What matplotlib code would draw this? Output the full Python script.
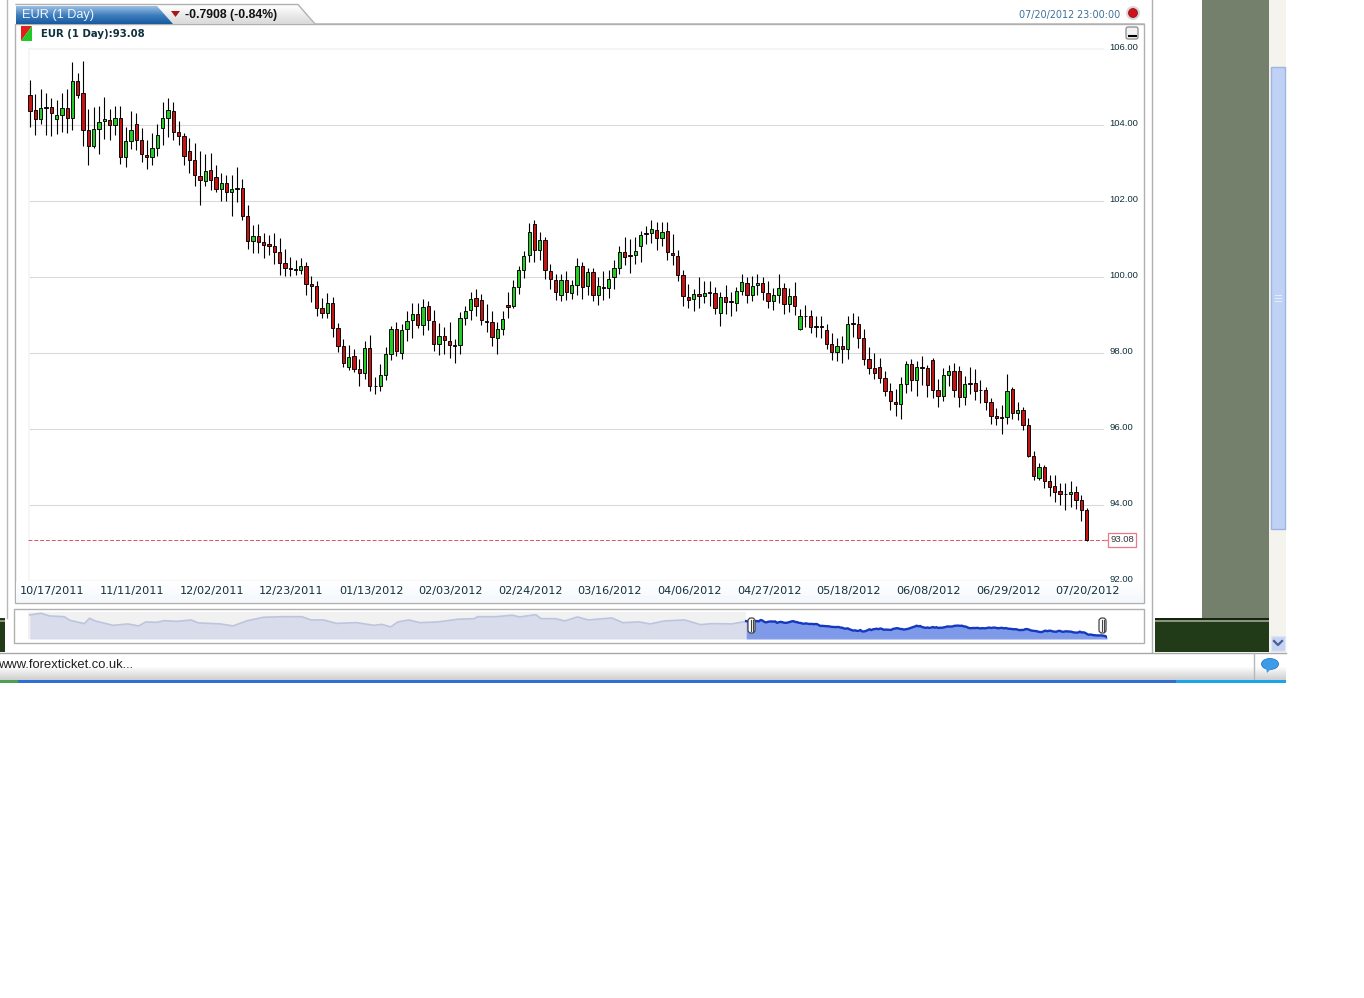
import numpy as np
import matplotlib
matplotlib.use("Agg")
import matplotlib.pyplot as plt
from matplotlib.patches import Rectangle, Polygon, FancyBboxPatch, Circle, Ellipse
from matplotlib.colors import LinearSegmentedColormap
from matplotlib.transforms import ScaledTranslation

# Daily candles
high = [105.19,104.82,104.95,104.84,104.71,104.67,104.84,104.95,105.67,105.37,105.70,104.43,104.47,104.51,104.74,104.43,104.51,104.51,103.95,104.38,
        104.32,103.92,103.61,103.79,104.03,104.60,104.71,104.60,104.12,103.79,103.67,103.53,103.33,103.25,103.26,102.96,102.74,102.69,102.69,102.91,
        102.58,101.90,101.38,101.40,101.17,101.11,101.17,101.04,100.74,100.53,100.44,100.50,100.41,100.03,99.90,99.45,99.58,99.47,98.78,98.37,
        98.21,98.11,97.84,98.33,98.47,97.37,97.72,98.15,98.72,98.83,98.77,99.12,99.32,99.32,99.42,99.36,99.14,98.79,98.69,98.82,
        98.37,99.07,99.25,99.60,99.69,99.55,99.29,99.11,98.83,99.11,99.60,99.93,100.28,100.69,101.42,101.49,101.18,101.05,100.34,100.09,
        100.09,100.17,99.93,100.50,100.40,100.25,100.24,100.00,100.15,100.18,100.46,100.82,101.05,101.00,101.05,101.20,101.35,101.51,101.44,101.44,
        101.44,101.14,100.70,100.18,99.82,99.68,99.99,99.89,99.89,99.75,99.61,99.79,99.61,99.75,100.08,99.99,100.02,100.09,100.00,99.89,
        99.71,100.07,99.84,99.71,99.87,99.16,99.27,99.14,98.97,98.97,98.77,98.54,98.40,98.46,98.97,99.05,98.98,98.63,98.16,98.00,
        97.87,97.52,97.20,97.06,97.37,97.79,97.84,97.78,97.91,97.69,97.87,97.32,97.61,97.69,97.74,97.67,97.39,97.63,97.58,97.28,
        97.11,96.82,96.55,96.62,97.46,97.10,96.72,96.57,96.29,95.42,95.11,95.06,94.80,94.78,94.58,94.58,94.63,94.50,94.27,93.93]
open_ = [104.79,104.39,104.17,104.47,104.47,104.17,104.27,104.45,104.18,105.16,104.84,103.87,103.46,103.89,104.10,104.13,104.01,104.20,103.16,103.59,
         104.04,103.61,103.21,103.15,103.41,103.92,104.18,104.38,103.82,103.71,103.32,103.08,102.66,102.54,102.81,102.63,102.32,102.47,102.23,102.35,
         102.34,101.62,100.96,101.09,100.92,100.88,100.82,100.65,100.36,100.24,100.20,100.18,100.29,99.82,99.76,99.18,99.06,99.31,98.65,98.19,
         97.64,97.91,97.57,97.47,98.13,97.14,97.13,97.42,97.98,98.63,97.99,98.63,98.86,99.03,98.73,99.24,98.85,98.25,98.45,98.33,
         98.21,98.21,98.91,99.13,99.44,99.40,98.84,98.81,98.40,98.63,99.26,99.25,99.75,100.18,100.58,101.39,100.72,100.98,100.17,99.93,
         99.54,99.92,99.59,99.79,100.28,99.77,100.13,99.52,99.75,99.72,100.00,100.25,100.67,100.58,100.58,100.82,101.16,101.16,101.24,101.03,
         101.20,100.63,100.56,100.05,99.47,99.41,99.56,99.49,99.60,99.58,99.05,99.47,99.36,99.33,99.64,99.85,99.53,99.78,99.84,99.59,
         99.36,99.53,99.70,99.28,99.50,98.64,98.98,98.97,98.70,98.70,98.62,98.24,98.02,98.19,98.12,98.79,98.76,98.39,97.85,97.61,
         97.64,97.34,96.99,96.72,96.67,97.18,97.70,97.29,97.62,97.60,97.83,97.04,96.86,97.42,97.52,97.53,96.84,97.20,97.21,97.04,
         97.03,96.70,96.34,96.32,96.32,97.05,96.41,96.51,96.11,95.29,94.71,94.99,94.62,94.49,94.37,94.30,94.30,94.35,94.12,93.88]
close = [104.38,104.17,104.45,104.45,104.33,104.26,104.44,104.19,105.16,104.80,103.88,103.46,103.89,104.09,104.17,104.01,104.20,103.16,103.59,103.87,
         103.62,103.23,103.15,103.40,103.74,104.18,104.39,103.82,103.72,103.19,103.08,102.68,102.56,102.79,102.56,102.32,102.47,102.23,102.32,102.33,
         101.62,100.96,101.09,100.93,100.85,100.83,100.66,100.36,100.25,100.21,100.18,100.29,99.83,99.76,99.18,99.06,99.31,98.66,98.19,97.73,
         97.90,97.57,97.48,98.13,97.13,97.13,97.42,97.98,98.64,98.05,98.62,98.84,99.03,98.73,99.21,98.86,98.25,98.45,98.35,98.21,
         98.19,98.91,99.12,99.43,99.24,98.86,98.81,98.41,98.63,98.90,99.21,99.74,100.18,100.56,101.18,100.70,100.98,100.18,99.95,99.62,
         99.92,99.60,99.79,100.28,99.73,100.14,99.52,99.76,99.72,99.96,100.24,100.66,100.54,100.56,100.68,101.12,101.14,101.26,101.03,101.19,
         100.65,100.58,100.06,99.49,99.40,99.56,99.49,99.59,99.59,99.18,99.47,99.35,99.34,99.63,99.87,99.54,99.76,99.84,99.60,99.36,
         99.53,99.71,99.29,99.50,99.25,98.97,98.97,98.68,98.69,98.68,98.25,98.02,98.19,98.12,98.76,98.76,98.39,97.85,97.61,97.47,
         97.34,96.99,96.73,96.66,97.18,97.70,97.29,97.62,97.60,97.15,97.04,96.86,97.42,97.53,97.03,96.84,97.18,97.19,97.01,97.02,
         96.70,96.34,96.29,96.30,97.01,96.41,96.51,96.11,95.29,94.76,94.99,94.63,94.48,94.35,94.28,94.28,94.35,94.12,93.87,93.08]
low = [103.96,103.73,104.03,103.75,103.72,103.77,103.81,103.79,103.88,104.71,103.44,102.94,103.39,103.25,103.64,103.61,103.75,102.97,102.91,103.37,
       103.35,103.04,102.84,102.96,103.20,103.47,103.68,103.61,103.48,102.96,102.75,102.41,101.90,102.41,102.30,102.23,102.01,101.99,101.60,101.98,
       101.49,100.74,100.63,100.63,100.50,100.59,100.34,100.06,100.02,100.02,100.06,100.08,99.53,99.34,98.98,98.92,98.92,98.42,98.02,97.63,
       97.55,97.49,97.12,97.33,97.00,96.91,97.00,97.30,97.82,97.93,97.85,98.32,98.40,98.65,98.48,98.60,98.05,97.94,97.98,97.87,
       97.74,97.98,98.75,98.88,98.97,98.75,98.55,98.18,97.98,98.48,98.92,99.19,99.55,99.97,100.41,100.39,100.46,99.96,99.68,99.39,
       99.38,99.39,99.42,99.54,99.42,99.54,99.36,99.26,99.39,99.45,99.68,100.09,100.32,100.11,100.35,100.39,100.88,100.89,100.70,100.81,
       100.44,100.31,99.90,99.25,99.18,99.11,99.18,99.32,99.23,99.04,98.70,99.03,98.97,99.10,99.54,99.33,99.36,99.53,99.39,99.18,
       99.14,99.33,99.04,99.07,98.99,98.60,98.68,98.53,98.42,98.40,98.11,97.82,97.80,97.74,97.85,98.42,98.13,97.68,97.45,97.33,
       97.20,96.86,96.51,96.34,96.27,96.95,96.99,96.86,97.17,96.84,96.82,96.57,96.73,97.14,96.84,96.57,96.62,96.91,96.77,96.69,
       96.49,96.12,96.11,95.86,96.14,96.27,96.25,95.97,95.27,94.65,94.67,94.45,94.23,94.09,94.01,93.86,93.94,93.90,93.57,93.06]

date_ticks = [4, 19, 34, 49, 64, 79, 94, 109, 124, 139, 154, 169, 184, 199]
date_labels = ["10/17/2011", "11/11/2011", "12/02/2011", "12/23/2011", "01/13/2012", "02/03/2012", "02/24/2012",
               "03/16/2012", "04/06/2012", "04/27/2012", "05/18/2012", "06/08/2012", "06/29/2012", "07/20/2012"]
price_ticks = [92, 94, 96, 98, 100, 102, 104, 106]
last_price = 93.08

# navigator, older history in front of the selected range
nav_hist_x = [-395,-389,-384,-376,-373,-365,-362,-359,-349,-341,-335,-331,-325,-321,-314,-306,-302,-290,-283,-275,-266,-255,-245,-240,-233,-226,-215,-205,-201,-196,
              -192,-186,-180,-170,-159,-150,-148,-138,-129,-125,-116,-113,-105,-100,-93,-87,-74,-68,-59,-53,-45,-34,-25,-19,-8,0]
nav_hist_y = [108.7,109.9,108.0,107.5,105.0,102.6,106.4,104.5,101.4,102.4,101.0,103.8,103.5,104.7,104.2,105.2,103.1,102.4,101.0,104.7,107.1,107.5,107.5,105.2,105.2,102.8,103.3,101.4,102.1,100.3,
              103.8,105.2,103.3,103.8,105.7,106.1,107.5,107.5,108.5,107.3,108.9,106.1,106.1,104.5,107.3,105.2,106.6,103.3,103.8,102.4,104.5,105.2,101.9,102.6,102.4,104.2]

W, H = 1364, 998
fig = plt.figure(figsize=(W / 100, H / 100), dpi=100, facecolor="white")


def px_axes(x0, y0, x1, y1):
    # axes placed with screen pixels, y measured from the top
    return fig.add_axes([x0 / W, 1 - y1 / H, (x1 - x0) / W, (y1 - y0) / H])


def gradient(ax, x0, y0, x1, y1, colors, clip=None):
    cmap = LinearSegmentedColormap.from_list("g", colors)
    g = np.linspace(0, 1, 64).reshape(-1, 1)
    im = ax.imshow(g, cmap=cmap, extent=(x0, x1, y1, y0), aspect="auto", zorder=4)
    if clip is not None:
        patch = Polygon(clip, closed=True, transform=ax.transData, facecolor="none", edgecolor="none")
        ax.add_patch(patch)
        im.set_clip_path(patch)


# Window chrome
bg = fig.add_axes([0, 0, 1, 1])
bg.axis("off")


def box(x0, y0, x1, y1, fc="white", ec="none", lw=1.0, z=1):
    bg.add_patch(Rectangle((x0, y0), x1 - x0, y1 - y0, facecolor=fc, edgecolor=ec, linewidth=lw, zorder=z))


box(1202, 0, 1269, 618, fc="#747f6c")
box(1155, 618, 1269, 652, fc="#213a17")
box(1155, 618, 1269, 620, fc="#14240e", z=2)
box(1155, 620, 1269, 622, fc="#8b9480", z=2)
box(0, 618, 5, 652, fc="#213a17")
box(0, 620, 5, 622, fc="#8b9480", z=2)
bg.plot([1152, 1152], [0, 652], color="#b0b0b0", lw=1.0, zorder=2)
bg.plot([7, 7], [0, 618], color="#b8b8b8", lw=1.0, zorder=2)

# scrollbar
box(1269, 0, 1286, 652, fc="#f5f3ee")
box(1271, 67, 1285, 529, fc="#bfd2f6", ec="#9fb4de", lw=1, z=2)
for yy in (295, 298, 301):
    bg.plot([1275, 1281], [yy, yy], color="#e6eefc", lw=0.7, zorder=3)
box(1271, 636, 1285, 651, fc="#c6d4f2", ec="#dfe6f6", lw=1, z=2)
bg.plot([1274, 1278, 1282], [641, 645, 641], color="#4a5f9a", lw=1.6, zorder=3)

# main panels
box(15, 24, 1144, 603, fc="white", ec="#b0b0b0", lw=1.0, z=3)
gradient(bg, 16, 582, 1143, 602, ["#ffffff", "#f4f8fc"])
box(14, 609, 1144, 643, fc="white", ec="#b0b0b0", lw=1.0, z=3)

# status bar
gradient(bg, 0, 653, 1286, 680, ["#ffffff", "#ffffff", "#cfcfcf"])
bg.plot([0, 1286], [652.5, 652.5], color="#a8a8a8", lw=1.0, zorder=5)
bg.plot([1254, 1254], [653, 680], color="#b8b8b8", lw=1.0, zorder=5)
bg.text(-1.5, 665.5, "www.forexticket.co.uk...", fontsize=9.4, family="Liberation Sans", color="#222222", va="center", zorder=6)
box(0, 680, 1286, 683, fc="#2e6fd2", z=5)
box(1176, 680, 1286, 683, fc="#1ca4ea", z=6)
box(0, 680, 18, 683, fc="#4f9e55", z=6)
bg.add_patch(Ellipse((1270, 664), 17, 11, facecolor="#3d9be8", edgecolor="#2a78c4", lw=0.6, zorder=6))
bg.add_patch(Polygon([(1266, 668), (1272, 668), (1267, 673)], facecolor="#3d9be8", edgecolor="none", zorder=6))

# header tabs
grey_tab = [(150, 5), (298, 5), (314, 24), (150, 24)]
gradient(bg, 150, 5, 316, 24, ["#ffffff", "#d9d9d9"], clip=grey_tab)
bg.plot([16, 298, 315, 1144], [4.5, 4.5, 24, 24], color="#b0b0b0", lw=1.0, zorder=5)
blue_tab = [(16, 6), (157, 6), (173, 24), (16, 24)]
gradient(bg, 16, 6, 173, 24, ["#9dc0e2", "#3f7fbf", "#175a9f"], clip=blue_tab)
bg.text(22, 14.5, "EUR (1 Day)", color="#eef5fb", fontsize=9.2, family="Liberation Sans", va="center", zorder=6)
bg.add_patch(Polygon([(171, 11), (180, 11), (175.5, 17)], facecolor="#a81818", edgecolor="none", zorder=6))
bg.text(185, 14.5, "-0.7908 (-0.84%)", color="#111111", fontsize=8.8, family="Liberation Sans", weight="bold", va="center", zorder=6)
bg.text(1120.5, 14.5, "07/20/2012 23:00:00", color="#3f7097", fontsize=6.9, family="DejaVu Sans", ha="right", va="center", zorder=6)
bg.add_patch(Circle((1133, 13), 7, facecolor="#d8d8d8", edgecolor="none", zorder=6))
bg.add_patch(Circle((1133, 13), 4.5, facecolor="#d0101c", edgecolor="#8a0a10", lw=0.5, zorder=7))
bg.add_patch(FancyBboxPatch((1126, 27), 12, 12, boxstyle="round,pad=0,rounding_size=2", facecolor="#f2f2f2", edgecolor="#8a8a8a", lw=0.9, zorder=6))
bg.plot([1128.5, 1136], [35.5, 35.5], color="black", lw=1.5, zorder=7)

# legend swatch
bg.add_patch(Polygon([(21, 26), (32, 26), (21, 41)], facecolor="#e0201c", edgecolor="none", zorder=6))
bg.add_patch(Polygon([(32, 26), (32, 41), (21, 41)], facecolor="#20c828", edgecolor="none", zorder=6))
bg.text(41, 33.5, "EUR (1 Day):93.08", color="#10303c", fontsize=7.3, family="DejaVu Sans", weight="bold", va="center", zorder=6)
bg.set_xlim(0, W)
bg.set_ylim(H, 0)

# Main candle chart
ax = px_axes(28, 48, 1104, 581)
ax.set_facecolor("white")
ax.set_xlim(-0.38, 202.26)
ax.set_ylim(92.01, 106.03)

x = np.arange(len(close))
o = np.array(open_)
c = np.array(close)
up = c > o
body_colors = np.where(up, "#22cc22", "#c41414")

ax.hlines(price_ticks[1:-1], -0.38, 202.26, color="#dadada", lw=0.8, zorder=1)
ax.hlines(106.03, -0.38, 202.26, color="#f4f4f4", lw=2, zorder=1)
ax.vlines(-0.38, 92.01, 106.03, color="#f6f6f6", lw=2, zorder=1)
ax.hlines(92.01, -0.38, 202.26, color="#f6f6f6", lw=1.5, zorder=1)
ax.vlines(x, low, high, color="black", lw=0.8, zorder=3)
ax.bar(x, np.maximum(c, o) - np.minimum(c, o), bottom=np.minimum(c, o), width=0.62, color=body_colors, edgecolor="black", linewidth=0.65, zorder=4)
ax.axhline(last_price, color="#e05060", lw=0.7, ls=(0, (4, 2)), zorder=2)

for s in ax.spines.values():
    s.set_visible(False)
ax.yaxis.tick_right()
ax.set_yticks(price_ticks)
ax.set_yticklabels([f"{p:.2f}" for p in price_ticks], fontsize=6.8, family="Liberation Sans", color="#10303c", va="center_baseline")
ax.tick_params(axis="y", length=0, pad=4)
for lab in ax.get_yticklabels():
    lab.set_transform(lab.get_transform() + ScaledTranslation(0, 2.5 / 100, fig.dpi_scale_trans))
ax.set_xticks(date_ticks)
ax.set_xticklabels(date_labels, fontsize=8.1, family="DejaVu Sans", color="#10303c")
ax.tick_params(axis="x", length=0, pad=3.5)
for lab in ax.get_xticklabels():
    lab.set_transform(lab.get_transform() + ScaledTranslation(1.2 / 100, 0, fig.dpi_scale_trans))

# current price flag sits outside the plot area
ax.annotate(f"{last_price:.2f}", xy=(202.26, last_price), xycoords="data", xytext=(12.9, 0), textcoords="offset points",
            fontsize=6.8, family="Liberation Sans", color="#333333", ha="center", va="center", annotation_clip=False,
            bbox=dict(boxstyle="square,pad=0.22", facecolor="white", edgecolor="#e8788a", lw=0.9), zorder=6)
bg.plot([1104, 1108], [540.3, 540.3], color="#e8788a", lw=0.9, zorder=5)

# Navigator
nav = px_axes(28, 612, 1107, 639)
nav.set_xlim(-396, 199)
nav.set_ylim(91.8, 110.8)
nav.axis("off")
nav.axvspan(-396, 0, color="#f1f1f1", lw=0, zorder=0)
nav.fill_between(nav_hist_x, nav_hist_y, 91.8, color="#d9ddeb", lw=0, zorder=1)
nav.plot(nav_hist_x, nav_hist_y, color="#bcc4de", lw=1.2, zorder=2)
nav.fill_between(x, close, 91.8, color="#7f9ae8", lw=0, zorder=1)
nav.plot(x, close, color="#1438c0", lw=1.7, zorder=2)
nav.hlines(91.95, -396, 199, color="#c6cce0", lw=0.8, zorder=2)

for hx in (751.5, 1102.5):
    nav.add_patch(FancyBboxPatch((hx - 3.5, 618), 7, 15, boxstyle="round,pad=0,rounding_size=3", transform=bg.transData, facecolor="white", edgecolor="#444444", lw=0.9, zorder=20, clip_on=False))
    nav.plot([hx - 1, hx - 1], [620, 631], transform=bg.transData, color="#444444", lw=0.8, zorder=21, clip_on=False)
    nav.plot([hx + 1, hx + 1], [620, 631], transform=bg.transData, color="#444444", lw=0.8, zorder=21, clip_on=False)

fig.savefig("out.png", dpi=100)
